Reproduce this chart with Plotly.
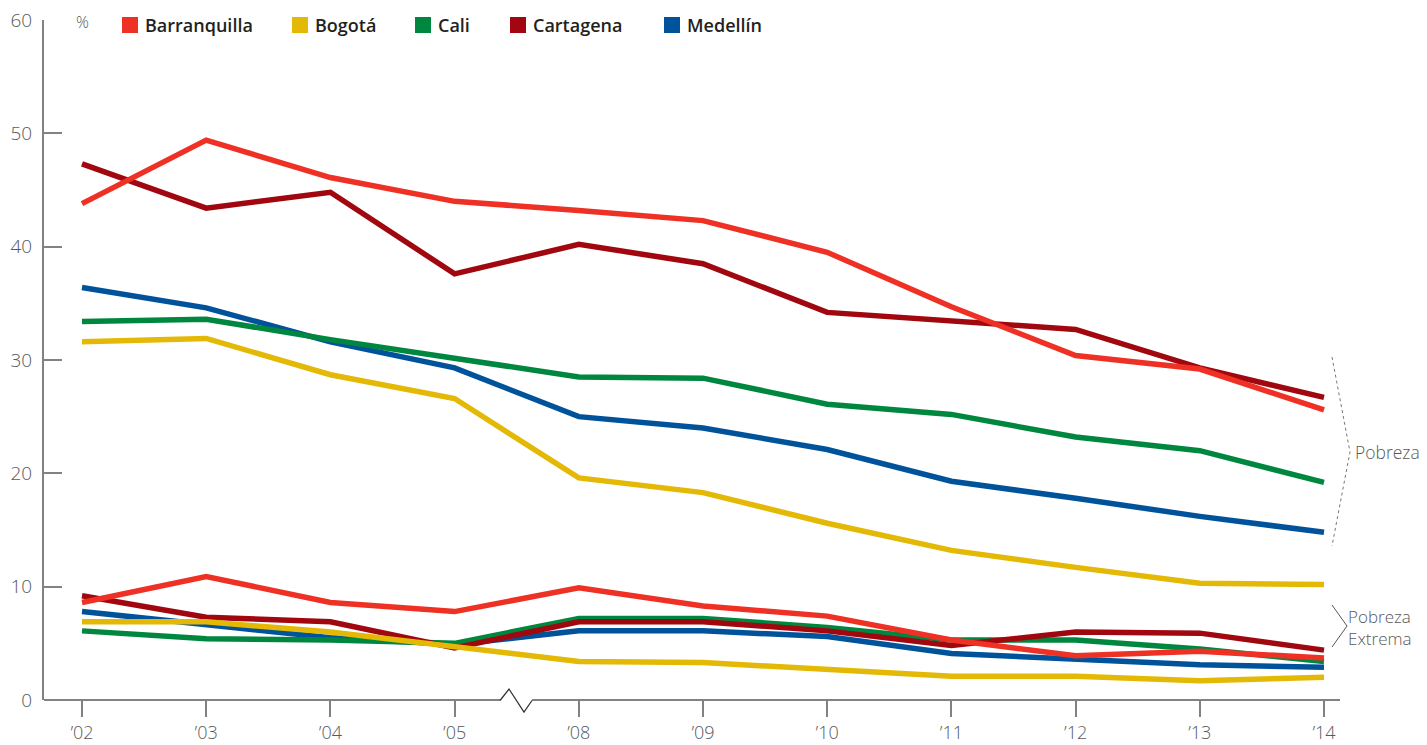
import plotly.graph_objects as go

years = ["’02", "’03", "’04", "’05", "’08", "’09", "’10", "’11", "’12", "’13", "’14"]
cities = ["Barranquilla", "Bogotá", "Cali", "Cartagena", "Medellín"]
colors = ["#EE3124", "#E3B905", "#00873F", "#A0070F", "#00539B"]

# Pobreza (%)
pob_barranquilla = [43.8, 49.4, 46.1, 44.0, 43.2, 42.3, 39.5, 34.7, 30.4, 29.2, 25.6]
pob_bogota = [31.6, 31.9, 28.7, 26.6, 19.6, 18.3, 15.6, 13.2, 11.7, 10.3, 10.2]
pob_cali = [33.4, 33.6, 31.8, 30.1, 28.5, 28.4, 26.1, 25.2, 23.2, 22.0, 19.2]
pob_cartagena = [47.3, 43.4, 44.8, 37.6, 40.2, 38.5, 34.2, 33.5, 32.7, 29.3, 26.7]
pob_medellin = [36.4, 34.6, 31.6, 29.3, 25.0, 24.0, 22.1, 19.3, 17.8, 16.2, 14.8]

# Pobreza extrema (%)
ext_barranquilla = [8.6, 10.9, 8.6, 7.8, 9.9, 8.3, 7.4, 5.3, 3.9, 4.3, 3.7]
ext_bogota = [6.9, 6.9, 6.0, 4.7, 3.4, 3.3, 2.7, 2.1, 2.1, 1.7, 2.0]
ext_cali = [6.1, 5.4, 5.3, 5.0, 7.2, 7.2, 6.4, 5.3, 5.3, 4.5, 3.4]
ext_cartagena = [9.2, 7.3, 6.9, 4.6, 6.9, 6.9, 6.1, 4.8, 6.0, 5.9, 4.4]
ext_medellin = [7.8, 6.6, 5.5, 4.9, 6.1, 6.1, 5.6, 4.1, 3.6, 3.1, 2.9]

y_ticks = [0, 10, 20, 30, 40, 50, 60]

pobreza = dict(zip(cities, [pob_barranquilla, pob_bogota, pob_cali, pob_cartagena, pob_medellin]))
extrema = dict(zip(cities, [ext_barranquilla, ext_bogota, ext_cali, ext_cartagena, ext_medellin]))
color_of = dict(zip(cities, colors))

xi = list(range(len(years)))
FONT = "Open Sans"
TXT = "#58595B"
fig = go.Figure()

draw_order = ["Medellín", "Cali", "Cartagena", "Bogotá", "Barranquilla"]
for series in (extrema, pobreza):
    for c in draw_order:
        fig.add_trace(go.Scatter(
            x=xi, y=series[c], mode="lines", name=c, showlegend=False,
            line=dict(color=color_of[c], width=5.5),
            hoverinfo="x+y+name",
        ))

W, H = 1427, 745
ml, mr, mt, mb = 44, 87, 20, 45
pw, ph = W - ml - mr, H - mt - mb

def px(xp):
    return (xp - ml) / pw

def py(yp):
    return (H - mb - yp) / ph

shapes = []
annotations = []

# Custom legend
legend_x = [122, 292, 415, 510, 664]
for c, lx in zip(cities, legend_x):
    shapes.append(dict(type="rect", xref="paper", yref="paper",
                       x0=px(lx), x1=px(lx + 16), y0=py(33), y1=py(17),
                       fillcolor=color_of[c], line=dict(width=0)))
    annotations.append(dict(text=c, xref="paper", yref="paper", x=px(lx + 21), y=py(25),
                            xanchor="left", yanchor="middle", showarrow=False,
                            font=dict(family=FONT, size=18, color="#231F20", weight=600)))

annotations.append(dict(text="%", xref="paper", yref="paper", x=px(82), y=py(22),
                        xanchor="center", yanchor="middle", showarrow=False,
                        font=dict(family=FONT, size=16, color=TXT, weight=300)))

# x axis line with break
axis_col = "#808285"
shapes.append(dict(type="line", xref="paper", yref="paper", x0=0, x1=px(500), y0=0, y1=0,
                   line=dict(color=axis_col, width=2)))
shapes.append(dict(type="line", xref="paper", yref="paper", x0=px(532), x1=1, y0=0, y1=0,
                   line=dict(color=axis_col, width=2)))
shapes.append(dict(type="path", xref="paper", yref="paper",
                   path=f"M {px(500)} {py(700.5)} L {px(509)} {py(689)} L {px(524)} {py(712)} L {px(532)} {py(700.5)}",
                   line=dict(color="#333333", width=1.3)))

# Braces on the right
shapes.append(dict(type="path", xref="paper", yref="paper",
                   path=f"M {px(1332)} {py(357)} L {px(1350)} {py(452)} L {px(1332)} {py(546)}",
                   line=dict(color="#777777", width=1, dash="dot")))
shapes.append(dict(type="path", xref="paper", yref="paper",
                   path=f"M {px(1332)} {py(605)} L {px(1347)} {py(626)} L {px(1332)} {py(647)}",
                   line=dict(color="#555555", width=1)))
annotations.append(dict(text="Pobreza", xref="paper", yref="paper", x=px(1353), y=py(452),
                        xanchor="left", yanchor="middle", showarrow=False,
                        font=dict(family=FONT, size=17.5, color=TXT, weight=300)))
annotations.append(dict(text="Pobreza<br>Extrema", xref="paper", yref="paper", x=px(1346), y=py(627),
                        xanchor="left", yanchor="middle", showarrow=False, align="left",
                        font=dict(family=FONT, size=17, color=TXT, weight=300)))

fig.update_layout(
    width=W, height=H,
    margin=dict(l=ml, r=mr, t=mt, b=mb, autoexpand=False),
    paper_bgcolor="white", plot_bgcolor="white",
    showlegend=False,
    shapes=shapes, annotations=annotations,
    xaxis=dict(
        range=[(ml - 82) / 124.2, (W - mr - 82) / 124.2],
        tickvals=xi, ticktext=years,
        showline=False, showgrid=False, zeroline=False, automargin=False,
        ticks="outside", ticklen=16, tickwidth=2, tickcolor=axis_col,
        tickfont=dict(family=FONT, size=18, color=TXT, weight=300),
    ),
    yaxis=dict(
        range=[0, 60], tickvals=y_ticks,
        showline=True, linecolor=axis_col, linewidth=2,
        showgrid=False, zeroline=False, automargin=False,
        ticks="inside", ticklen=18, tickwidth=2, tickcolor=axis_col,
        tickfont=dict(family=FONT, size=19, color=TXT, weight=300),
        ticklabelstandoff=6,
    ),
)

fig.write_html("out.html", config={"displayModeBar": False},
               post_script="document.body.style.margin='0';document.body.style.overflow='hidden';")
